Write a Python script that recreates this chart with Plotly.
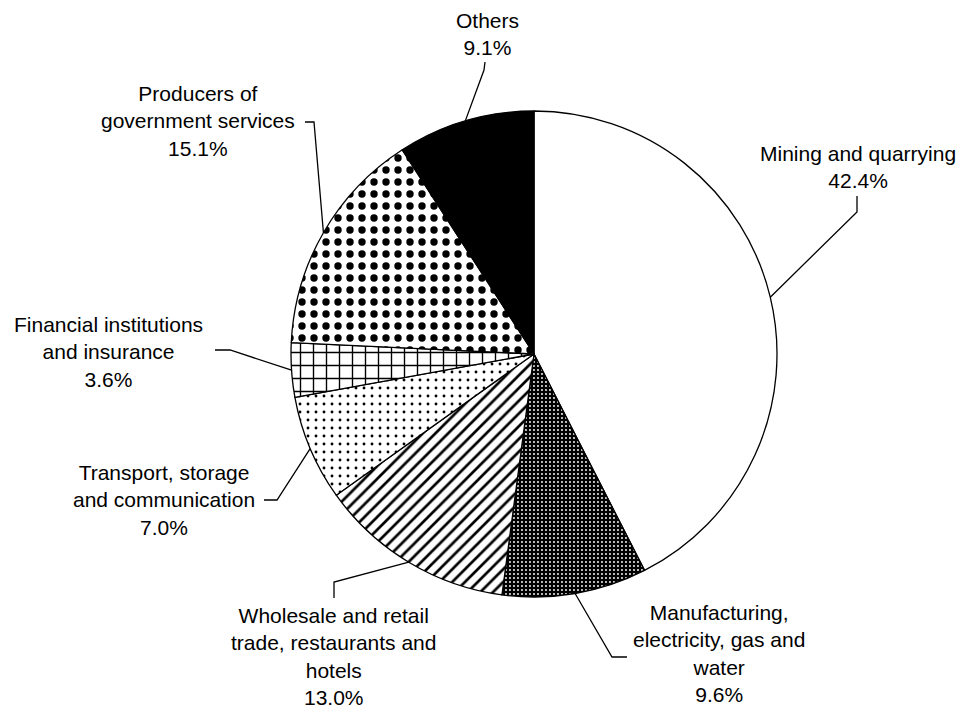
import numpy as np
import plotly.graph_objects as go

W, H = 964, 713
PAD = 8  # the page body has an 8px margin

# data
sectors = ["Mining and quarrying",
           "Manufacturing, electricity, gas and water",
           "Wholesale and retail trade, restaurants and hotels",
           "Transport, storage and communication",
           "Financial institutions and insurance",
           "Producers of government services",
           "Others"]
shares = [42.4, 9.6, 13.0, 7.0, 3.6, 15.1, 9.1]
label_lines = [["Mining and quarrying"],
               ["Manufacturing,", "electricity, gas and", "water"],
               ["Wholesale and retail", "trade, restaurants and", "hotels"],
               ["Transport, storage", "and communication"],
               ["Financial institutions", "and insurance"],
               ["Producers of", "government services"],
               ["Others"]]

# look of each slice
fills = ["white", "black", "white", "white", "white", "white", "black"]
pat_shape = ["", ".", "/", ".", "+", ".", ""]
pat_fg = ["black", "white", "black", "black", "black", "black", "black"]
pat_size = [8, 4, 9, 8, 13, 12, 8]
pat_solid = [0.3, 0.18, 0.3, 0.1, 0.2, 0.3, 0.3]

# pie geometry in window pixels
cx, cy, r = 534, 354, 243

# label centre (px) and leader elbow / end (px)
label_pos = [(858, 167), (719, 653), (333, 656), (164, 500), (108, 352), (198, 121), (487, 34)]
leader_pts = [[(857, 212), (857, 196)],
              [(612, 657), (627, 657)],
              [(334, 582), (334, 598)],
              [(277, 500), (264, 500)],
              [(230, 350), (215, 350)],
              [(314, 122), (305, 122)],
              [(484, 70), (485, 62)]]

FW, FH = W - 2 * PAD, H - PAD


def px(x):
    return (x - PAD) / FW


def py(y):
    return 1 - (y - PAD) / FH


fig = go.Figure()
fig.add_trace(go.Pie(labels=sectors, values=shares, sort=False, direction="clockwise",
                     rotation=0, textinfo="none", hoverinfo="label+percent",
                     showlegend=False,
                     domain=dict(x=[px(cx - r), px(cx + r)], y=[py(cy + r), py(cy - r)]),
                     marker=dict(colors=fills,
                                 line=dict(color="black", width=1.3),
                                 pattern=dict(shape=pat_shape, fgcolor=pat_fg, bgcolor=fills,
                                              size=pat_size, solidity=pat_solid,
                                              fillmode="replace"))))

# leader lines start at the middle of each slice's arc
total = sum(shares)
cum = np.cumsum([0] + shares)
for i, v in enumerate(shares):
    mid = (cum[i] + v / 2) / total * 2 * np.pi
    ex, ey = cx + r * np.sin(mid), cy - r * np.cos(mid)
    pts = [(ex, ey)] + leader_pts[i]
    path = "M " + " L ".join(f"{px(a):.5f},{py(b):.5f}" for a, b in pts)
    fig.add_shape(type="path", path=path, xref="paper", yref="paper",
                  line=dict(color="black", width=1.3))

    text = "<br>".join(label_lines[i] + [f"{v:.1f}%"])
    lx, ly = label_pos[i]
    fig.add_annotation(x=px(lx), y=py(ly), xref="paper", yref="paper", text=text,
                       showarrow=False, xanchor="center", yanchor="middle", align="center",
                       font=dict(family="Liberation Sans, Arial, sans-serif", size=21,
                                 color="black"))

fig.update_layout(width=FW, height=FH, margin=dict(l=0, r=0, t=0, b=0),
                  paper_bgcolor="white", plot_bgcolor="white")
fig.write_html("out.html")
